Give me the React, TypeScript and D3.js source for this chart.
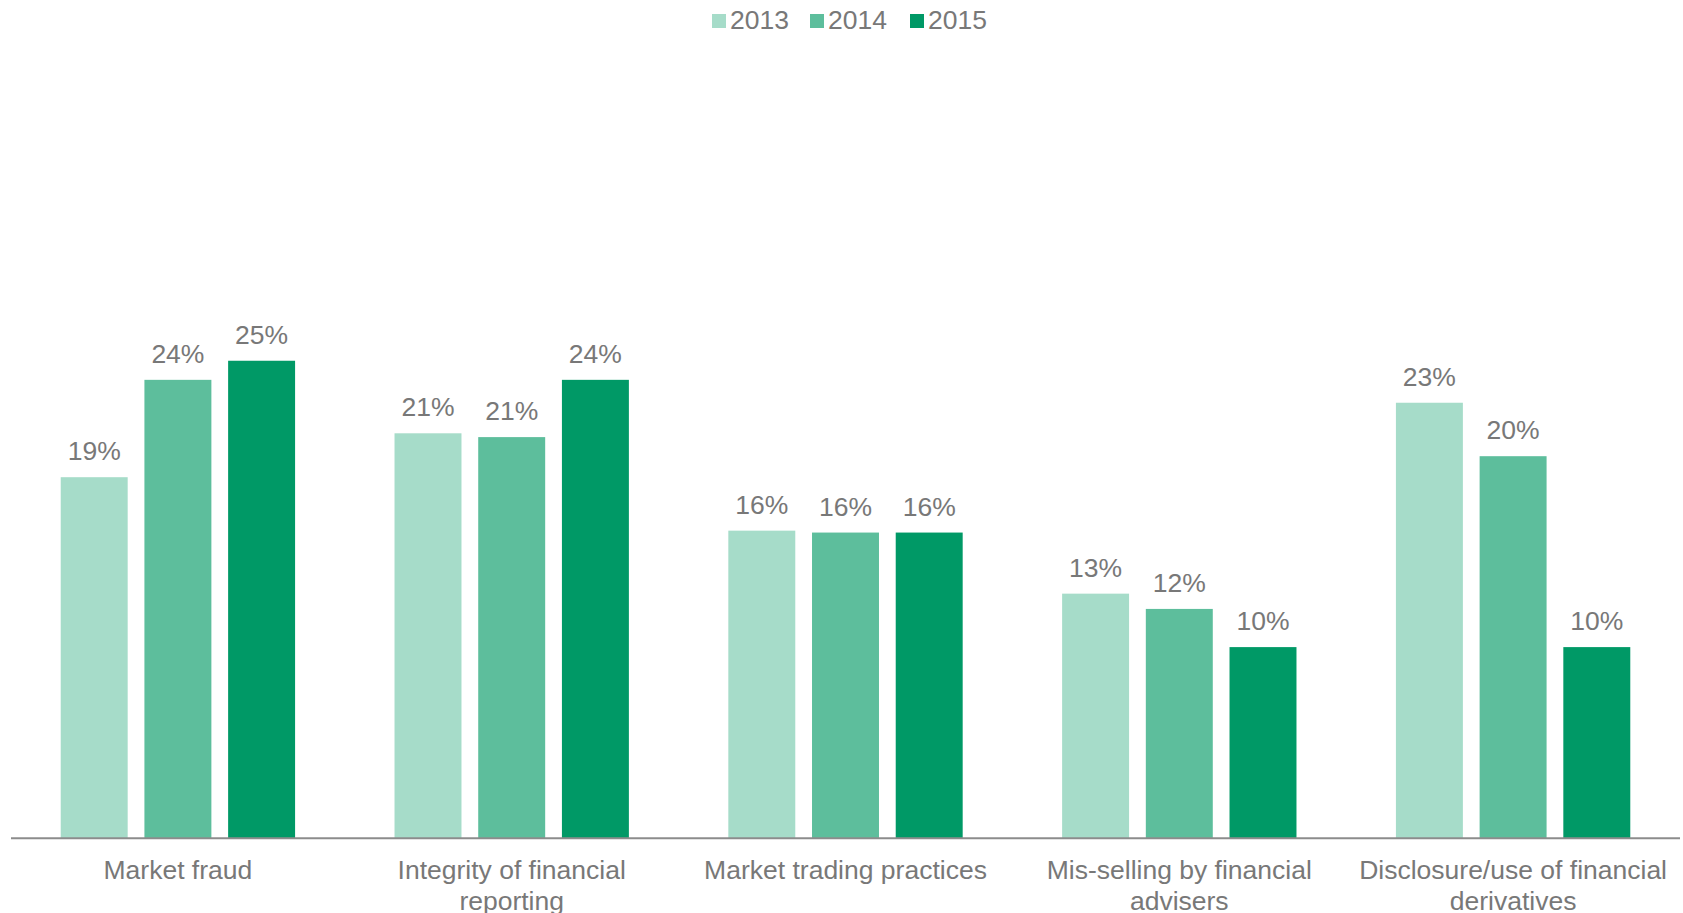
import React from "react";
import * as d3 from "d3";

const categories = [
  "Market fraud",
  "Integrity of financial\nreporting",
  "Market trading practices",
  "Mis-selling by financial\nadvisers",
  "Disclosure/use of financial\nderivatives",
];
const seriesNames = ["2013", "2014", "2015"];
const values2013 = [18.9, 21.2, 16.1, 12.8, 22.8];
const values2014 = [24.0, 21.0, 16.0, 12.0, 20.0];
const values2015 = [25.0, 24.0, 16.0, 10.0, 10.0];
const seriesValues = [values2013, values2014, values2015];
const colors = ["#a6dcc9", "#5dbe9c", "#009966"];

const W = 1683;
const H = 913;
const FONT = "'Liberation Sans', Arial, Helvetica, sans-serif";
const TEXT = "#787878";
const FS = 26.5;

export default function App() {
  const x0 = d3.scaleBand<string>().domain(categories).range([11, 1680]).padding(0);
  const x1 = d3
    .scaleBand<string>()
    .domain(seriesNames)
    .range([0, x0.bandwidth()])
    .paddingInner(0.2)
    .paddingOuter(0.594);
  const y = d3.scaleLinear().domain([0, 40]).range([838, 838 - 19.09 * 40]);

  const legendX = d3.scaleOrdinal<string, number>().domain(seriesNames).range([712, 810, 910]);

  return (
    <svg
      width={W}
      height={H}
      style={{ position: "absolute", left: 0, top: 0, background: "#fff" }}
      fontFamily={FONT}
    >
      {/* legend */}
      {seriesNames.map((s, i) => (
        <g key={s}>
          <rect x={legendX(s)} y={14} width={14} height={14} fill={colors[i]} />
          <text x={legendX(s) + 18} y={28.5} fontSize={FS} fill={TEXT}>
            {s}
          </text>
        </g>
      ))}

      {/* bars */}
      {categories.map((c, ci) => (
        <g key={c} transform={`translate(${x0(c)},0)`}>
          {seriesNames.map((s, si) => {
            const v = seriesValues[si][ci];
            const bx = x1(s)!;
            const by = y(v);
            return (
              <g key={s}>
                <rect x={bx} y={by} width={x1.bandwidth()} height={y(0) - by} fill={colors[si]} />
                <text
                  x={bx + x1.bandwidth() / 2}
                  y={by - 17}
                  textAnchor="middle"
                  fontSize={FS}
                  fill={TEXT}
                >
                  {`${Math.round(v)}%`}
                </text>
              </g>
            );
          })}
          {c.split("\n").map((line, li) => (
            <text
              key={li}
              x={x0.bandwidth() / 2}
              y={879 + li * 30.5}
              textAnchor="middle"
              fontSize={FS}
              fill={TEXT}
            >
              {line}
            </text>
          ))}
        </g>
      ))}

      {/* axis line */}
      <line x1={11} x2={1680} y1={838.3} y2={838.3} stroke="#8c8c8c" strokeWidth={2} />
    </svg>
  );
}
